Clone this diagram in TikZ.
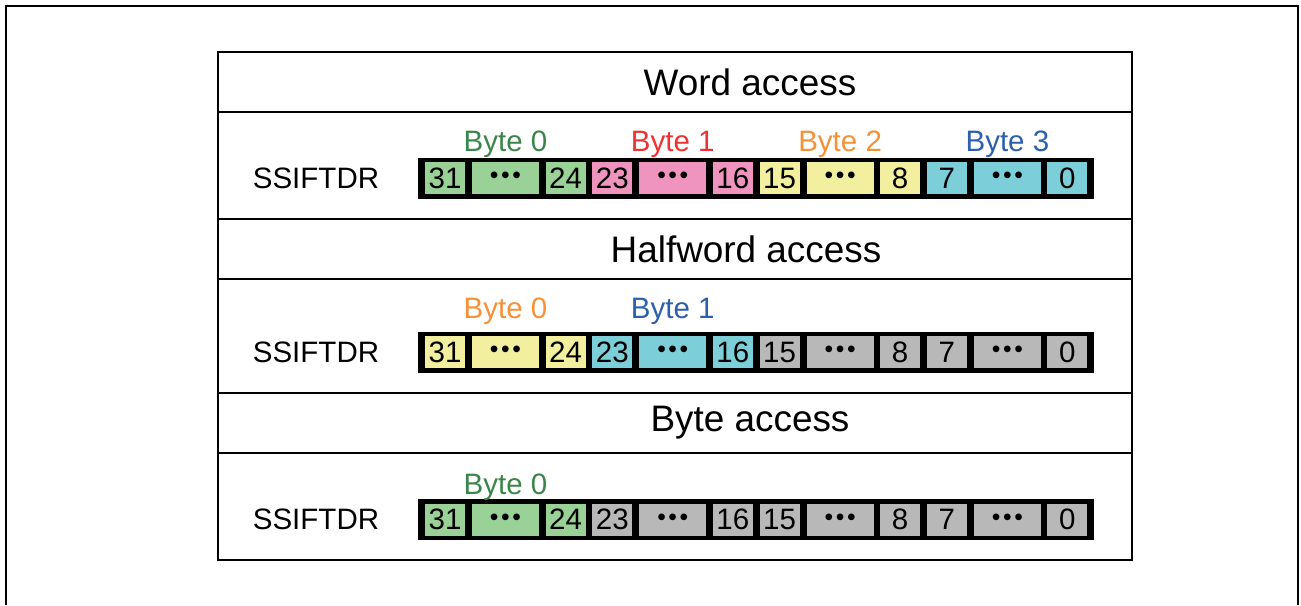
\documentclass[tikz,border=0pt]{standalone}
\usepackage{fontspec}
\setmainfont{Liberation Sans}
\usetikzlibrary{positioning}
\definecolor{regGreen}{HTML}{99D196}
\definecolor{regPink}{HTML}{EE94BF}
\definecolor{regYellow}{HTML}{F2F09E}
\definecolor{regCyan}{HTML}{7CCFD9}
\definecolor{regGray}{HTML}{B8B8B9}
\definecolor{lblGreen}{HTML}{3A864A}
\definecolor{lblRed}{HTML}{EE3232}
\definecolor{lblOrange}{HTML}{F59137}
\definecolor{lblBlue}{HTML}{2D5FAF}
\newcommand{\regdots}{{\fontsize{14}{14}\selectfont\textbullet\hspace{1.5pt}\textbullet\hspace{1.5pt}\textbullet}}

\begin{document}
\begin{tikzpicture}[x=0.02cm, y=-0.02cm,
  font=\fontsize{16.8}{19}\selectfont,
  frame/.style={line width=0.05cm},
  rule/.style={line width=0.05cm},
  bar/.style={fill=black, minimum width=13.52cm, minimum height=0.82cm, inner sep=0pt},
  cell/.style={fill=#1, minimum width=0.8cm, minimum height=0.64cm, inner sep=0pt},
  wcell/.style={fill=#1, minimum width=1.34cm, minimum height=0.64cm, inner sep=0pt},
  title/.style={font=\fontsize{21}{24}\selectfont},
  blabel/.style={text=#1}
]
\useasboundingbox (0,0) rectangle (1301,605);
% outer frame
\draw[frame] (6,605) -- (6,6) -- (1298,6) -- (1298,605);
% table
\draw[frame] (218,52) rectangle (1132,560);
\foreach \ly in {112,219,279,393,453}
  \draw[rule] (218,\ly) -- (1132,\ly);

% headers
\node[title] (hword) at (750,82) {Word access};
\node[title] (hhalf) at (746,249) {Halfword access};
\node[title] (hbyte) at (750,423) {Byte access};

% word access
\node (regw) at (316,178) {SSIFTDR};
\node[bar] (barw) at (756,178.5) {};
\foreach \k/\col/\hi/\lo in {0/regGreen/31/24, 1/regPink/23/16, 2/regYellow/15/8, 3/regCyan/7/0} {
  \node[cell=\col] (w\k a) at ({445+167.3*\k},178) {\hi};
  \node[wcell=\col] (w\k b) at ({505.5+167.3*\k},178) {\regdots};
  \node[cell=\col] (w\k c) at ({565.5+167.3*\k},178) {\lo};
}
\node[blabel=lblGreen, above=-1.5pt of w0b] (wb0) {Byte 0};
\node[blabel=lblRed, above=-1.5pt of w1b] (wb1) {Byte 1};
\node[blabel=lblOrange, above=-1.5pt of w2b] (wb2) {Byte 2};
\node[blabel=lblBlue, above=-1.5pt of w3b] (wb3) {Byte 3};

% halfword access
\node (regh) at (316,352) {SSIFTDR};
\node[bar] (barh) at (756,352) {};
\foreach \k/\col/\hi/\lo in {0/regYellow/31/24, 1/regCyan/23/16, 2/regGray/15/8, 3/regGray/7/0} {
  \node[cell=\col] (h\k a) at ({445+167.3*\k},352) {\hi};
  \node[wcell=\col] (h\k b) at ({505.5+167.3*\k},352) {\regdots};
  \node[cell=\col] (h\k c) at ({565.5+167.3*\k},352) {\lo};
}
\node[blabel=lblOrange, above=3pt of h0b] (hb0) {Byte 0};
\node[blabel=lblBlue, above=3pt of h1b] (hb1) {Byte 1};

% byte access
\node (regb) at (316,519.5) {SSIFTDR};
\node[bar] (barb) at (756,519.5) {};
\foreach \k/\col/\hi/\lo in {0/regGreen/31/24, 1/regGray/23/16, 2/regGray/15/8, 3/regGray/7/0} {
  \node[cell=\col] (b\k a) at ({445+167.3*\k},519.5) {\hi};
  \node[wcell=\col] (b\k b) at ({505.5+167.3*\k},519.5) {\regdots};
  \node[cell=\col] (b\k c) at ({565.5+167.3*\k},519.5) {\lo};
}
\node[blabel=lblGreen, above=-2pt of b0b] (bb0) {Byte 0};
\end{tikzpicture}
\end{document}
